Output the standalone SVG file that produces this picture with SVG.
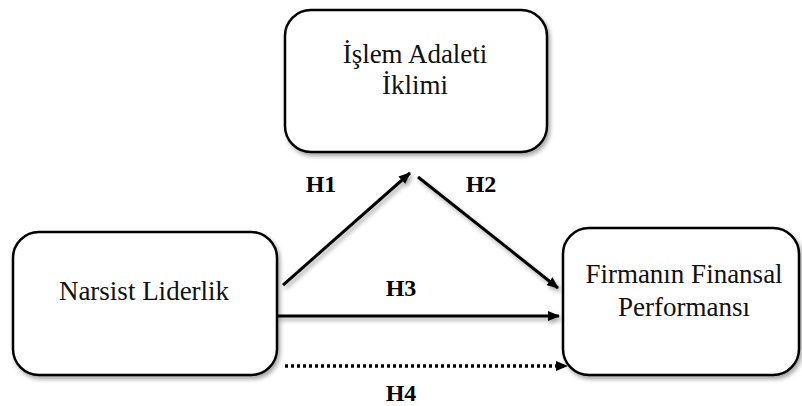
<svg xmlns="http://www.w3.org/2000/svg" width="802" height="406" viewBox="0 0 802 406">
  <defs>
    <filter id="sh" filterUnits="userSpaceOnUse" x="0" y="0" width="802" height="406">
      <feDropShadow dx="2" dy="3" stdDeviation="2.2" flood-color="#000" flood-opacity="0.35"/>
    </filter>
    <marker id="ah" viewBox="0 0 12 10" refX="11" refY="5" markerWidth="12" markerHeight="10" markerUnits="userSpaceOnUse" orient="auto">
      <path d="M0,0 L12,5 L0,10 Z" fill="#000"/>
    </marker>
  </defs>
  <style>
    .box { fill: #fff; stroke: #000; stroke-width: 2.5; filter: url(#sh); }
    .ln { stroke: #000; stroke-width: 3; fill: none; marker-end: url(#ah); filter: url(#sh); }
    .dot { stroke: #000; stroke-width: 3.5; fill: none; stroke-dasharray: 3 3; marker-end: url(#ah); }
  </style>
  <rect width="802" height="406" fill="#fff"/>
  <g id="node-islem">
    <rect class="box" x="285" y="10" width="262" height="142" rx="26"/>
    <text x="415" y="63" font-family="Liberation Serif" font-size="27" fill="#111" text-anchor="middle">İşlem Adaleti</text>
    <text x="415" y="94" font-family="Liberation Serif" font-size="27" fill="#111" text-anchor="middle">İklimi</text>
  </g>
  <g id="node-narsist">
    <rect class="box" x="13" y="232" width="264" height="143" rx="26"/>
    <text x="144" y="300" font-family="Liberation Serif" font-size="27" fill="#111" text-anchor="middle">Narsist Liderlik</text>
  </g>
  <g id="node-firma">
    <rect class="box" x="563" y="228" width="236" height="147" rx="26"/>
    <text x="684" y="283" font-family="Liberation Serif" font-size="27" fill="#111" text-anchor="middle">Firmanın Finansal</text>
    <text x="684" y="316" font-family="Liberation Serif" font-size="27" fill="#111" text-anchor="middle">Performansı</text>
  </g>
  <g id="connectors">
    <line class="ln" x1="283" y1="285" x2="410" y2="173"/>
    <line class="ln" x1="418" y1="177" x2="558" y2="288"/>
    <line class="ln" x1="277" y1="316" x2="559" y2="316"/>
    <line class="dot" x1="285" y1="366" x2="567" y2="366"/>
  </g>
  <g id="labels">
    <text x="321" y="192" font-family="Liberation Serif" font-size="24" font-weight="bold" text-anchor="middle">H1</text>
    <text x="481" y="192" font-family="Liberation Serif" font-size="24" font-weight="bold" text-anchor="middle">H2</text>
    <text x="401" y="296" font-family="Liberation Serif" font-size="24" font-weight="bold" text-anchor="middle">H3</text>
    <text x="401" y="401" font-family="Liberation Serif" font-size="24" font-weight="bold" text-anchor="middle">H4</text>
  </g>
</svg>
